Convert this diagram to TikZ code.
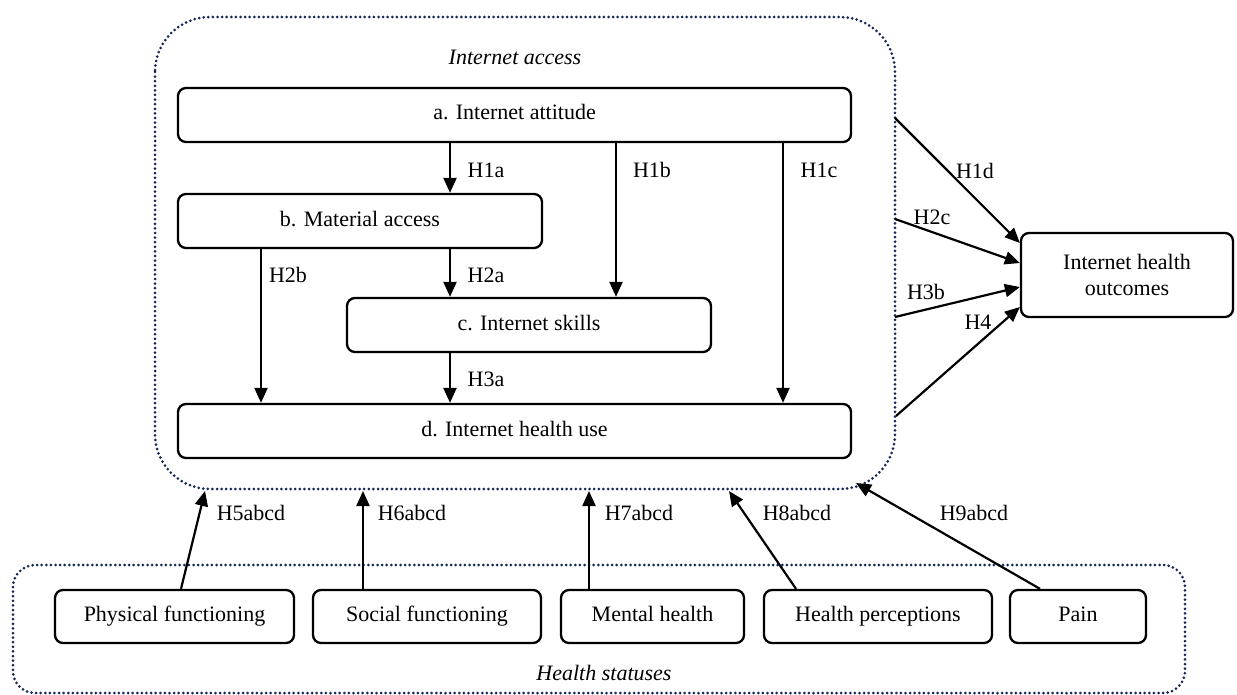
\documentclass[tikz,border=0pt]{standalone}
\usepackage{fontspec}
\setmainfont{Liberation Serif}
\usetikzlibrary{arrows.meta}
\definecolor{dotblue}{RGB}{25,40,90}
\begin{document}
\begin{tikzpicture}[x=1pt,y=-1pt,
  box/.style={draw, line width=2.3pt, rounded corners=8pt, inner sep=0pt,
    font=\fontsize{22}{26}\selectfont, align=center},
  sline/.style={box, text height=15pt, text depth=5pt},
  arr/.style={line width=2.2pt, -{Triangle[length=15pt,width=13pt]}},
  lab/.style={font=\fontsize{22}{26}\selectfont, inner sep=0pt},
  grp/.style={draw=dotblue, line width=3pt, dash pattern=on 0pt off 4.6pt,
    line cap=round},
  grplab/.style={font=\fontsize{22}{26}\selectfont\itshape, inner sep=0pt}]
\useasboundingbox (0,0) rectangle (1237,695);

% group frames
\draw[grp, rounded corners=55pt] (155,17) rectangle (895,489);
\draw[grp, rounded corners=22pt] (13,565) rectangle (1185,693);
\node[grplab] (ialab) at (515,57) {Internet access};
\node[grplab] (hslab) at (604,673) {Health statuses};

% main boxes
\node[sline, minimum width=673, minimum height=54] (a) at (514.5,115) {a. Internet attitude};
\node[sline, minimum width=364, minimum height=54] (b) at (360,221) {b. Material access};
\node[sline, minimum width=364, minimum height=54] (c) at (529,325) {c. Internet skills};
\node[sline, minimum width=673, minimum height=54] (d) at (514.5,431) {d. Internet health use};
\node[box, minimum width=212, minimum height=84] (out) at (1127,275) {Internet health\\outcomes};

% health status boxes
\node[sline, minimum width=239, minimum height=53] (pf) at (174.5,616.5) {Physical functioning};
\node[sline, minimum width=228, minimum height=53] (sf) at (427,616.5) {Social functioning};
\node[sline, minimum width=183, minimum height=53] (mh) at (652.5,616.5) {Mental health};
\node[sline, minimum width=228, minimum height=53] (hp) at (878,616.5) {Health perceptions};
\node[sline, minimum width=136, minimum height=53] (pn) at (1078,616.5) {Pain};

% inner arrows
\draw[arr] (a.south -| 450,0) -- (b.north -| 450,0);
\draw[arr] (a.south -| 616,0) -- (c.north -| 616,0);
\draw[arr] (a.south -| 783,0) -- (d.north -| 783,0);
\draw[arr] (b.south -| 261,0) -- (d.north -| 261,0);
\draw[arr] (b.south -| 450,0) -- (c.north -| 450,0);
\draw[arr] (c.south -| 450,0) -- (d.north -| 450,0);
\node[lab] (l1a) at (486,170) {H1a};
\node[lab] (l1b) at (652,170) {H1b};
\node[lab] (l1c) at (819,170) {H1c};
\node[lab] (l2b) at (288,275) {H2b};
\node[lab] (l2a) at (486,275) {H2a};
\node[lab] (l3a) at (486,379) {H3a};

% arrows to outcomes
\coordinate (s1d) at (895,118);
\coordinate (s2c) at (895,219);
\coordinate (s3b) at (895,317);
\coordinate (s4) at (896,416);
\draw[arr] (s1d) -- (out.west |- 0,243);
\draw[arr] (s2c) -- (out.west |- 0,263);
\draw[arr] (s3b) -- (out.west |- 0,287);
\draw[arr] (s4) -- (out.west |- 0,307);
\node[lab] (l1d) at (975,171) {H1d};
\node[lab] (l2c) at (932,217) {H2c};
\node[lab] (l3b) at (926,292) {H3b};
\node[lab] (l4) at (978,322) {H4};

% health statuses arrows
\coordinate (e5) at (205,491);
\coordinate (e6) at (363,491);
\coordinate (e7) at (589,491);
\coordinate (e8) at (729,491);
\coordinate (e9) at (856,483);
\draw[arr] (pf.north -| 181,0) -- (e5);
\draw[arr] (sf.north -| 363,0) -- (e6);
\draw[arr] (mh.north -| 589,0) -- (e7);
\draw[arr] (hp.north -| 796,0) -- (e8);
\draw[arr] (pn.north -| 1040,0) -- (e9);
\node[lab] (l5) at (251,513) {H5abcd};
\node[lab] (l6) at (412,513) {H6abcd};
\node[lab] (l7) at (639,513) {H7abcd};
\node[lab] (l8) at (797,513) {H8abcd};
\node[lab] (l9) at (974,513) {H9abcd};
\end{tikzpicture}
\end{document}
